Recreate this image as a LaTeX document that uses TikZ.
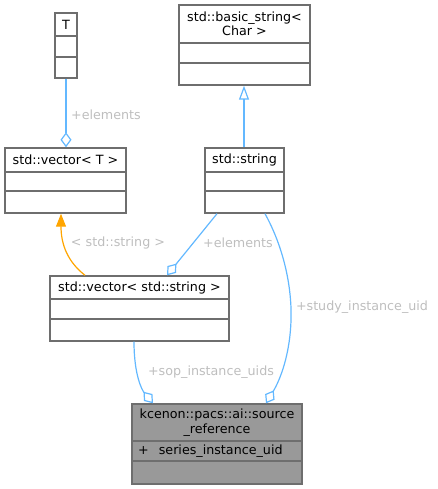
\documentclass[tikz,border=0pt]{standalone}
\usepackage{fontspec}
\setmainfont{DejaVu Sans}
\usetikzlibrary{arrows.meta}
\definecolor{boxline}{HTML}{6E6E6E}
\definecolor{mainfill}{HTML}{999999}
\definecolor{edgeblue}{HTML}{63B8FF}
\definecolor{lblgray}{HTML}{BEBEBE}
\definecolor{tmplorange}{HTML}{FFA500}
\begin{document}
\begin{tikzpicture}[x=1pt,y=-1pt,font=\fontsize{12.7}{14.5}\selectfont,
  cls/.style={draw=boxline,line width=1.4pt,inner sep=0pt,fill=white},
  sep/.style={draw=boxline,line width=1.4pt},
  ttl/.style={inner sep=0pt,align=center},
  lbl/.style={inner sep=0pt,text=lblgray},
  assoc/.style={draw=edgeblue,line width=1.2pt,-{Diamond[open,length=15pt,width=11pt]}},
  inh/.style={draw=edgeblue,line width=1.2pt,-{Triangle[open,length=14pt,width=10pt]}},
  tmpl/.style={draw=tmplorange,line width=1.2pt,-{Triangle[length=13pt,width=10pt,fill=tmplorange]}}]
\useasboundingbox (0,0) rectangle (437,489);

\node[cls,minimum width=22pt,minimum height=65pt] (T) at (66,45.5) {};
\draw[sep] (T.west |- 0,36) -- (T.east |- 0,36);
\draw[sep] (T.west |- 0,57) -- (T.east |- 0,57);
\node[ttl] (Tt) at (66,24.5) {T};

\node[cls,minimum width=131pt,minimum height=80pt] (basic) at (244.5,45) {};
\draw[sep] (basic.west |- 0,43) -- (basic.east |- 0,43);
\draw[sep] (basic.west |- 0,63) -- (basic.east |- 0,63);
\node[ttl] (basict) at (244.5,24) {std::basic\_string<\\Char >};

\node[cls,minimum width=121pt,minimum height=65pt] (vecT) at (65.5,180.5) {};
\draw[sep] (vecT.west |- 0,172) -- (vecT.east |- 0,172);
\draw[sep] (vecT.west |- 0,191) -- (vecT.east |- 0,191);
\node[ttl] (vecTt) at (65.5,160) {std::vector< T >};

\node[cls,minimum width=79pt,minimum height=65pt] (str) at (244.5,180.5) {};
\draw[sep] (str.west |- 0,172) -- (str.east |- 0,172);
\draw[sep] (str.west |- 0,191) -- (str.east |- 0,191);
\node[ttl] (strt) at (244.5,160) {std::string};

\node[cls,minimum width=179pt,minimum height=65pt] (vecS) at (139.5,308.5) {};
\draw[sep] (vecS.west |- 0,299) -- (vecS.east |- 0,299);
\draw[sep] (vecS.west |- 0,319) -- (vecS.east |- 0,319);
\node[ttl] (vecSt) at (139.5,287.5) {std::vector< std::string >};

\node[cls,fill=mainfill,minimum width=170pt,minimum height=80pt] (src) at (217,444) {};
\draw[sep] (src.west |- 0,441) -- (src.east |- 0,441);
\draw[sep] (src.west |- 0,461) -- (src.east |- 0,461);
\node[ttl] (srct) at (217,422.5) {kcenon::pacs::ai::source\\\_reference};
\node[ttl,anchor=west] (srcm) at (138,451) {+\hspace{10pt}series\_instance\_uid};

\draw[assoc] (T.south) -- (vecT.north -| 66,0);
\node[lbl] (l1) at (106,115) {+elements};

\draw[inh] (str.north -| 244,0) -- (basic.south -| 244,0);

\draw[tmpl] (vecS.north -| 85,0) .. controls (68,262) and (61,245) .. (vecT.south -| 61,0);
\node[lbl] (l2) at (118,243) {< std::string >};

\draw[assoc] (str.south -| 217,0) -- (vecS.north -| 167,0);
\node[lbl] (l3) at (238,243) {+elements};

\draw[assoc] (str.south -| 265,0) .. controls (285,250) and (292,290) .. (291,320)
  .. controls (290,355) and (280,380) .. (src.north -| 266,0);
\node[lbl] (l4) at (362,307) {+study\_instance\_uid};

\draw[assoc] (vecS.south -| 134,0) .. controls (134,375) and (142,390) .. (src.north -| 153,0);
\node[lbl] (l5) at (211,372) {+sop\_instance\_uids};

\end{tikzpicture}
\end{document}
